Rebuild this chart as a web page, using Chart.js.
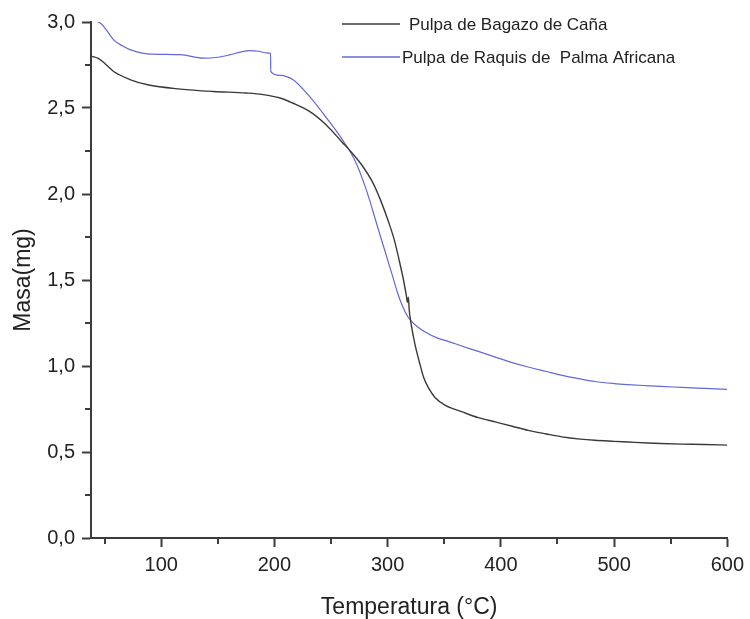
<!DOCTYPE html>
<html>
<head>
<meta charset="utf-8">
<script src="https://cdn.jsdelivr.net/npm/chart.js@4/dist/chart.umd.min.js"></script>
<style>
    html, body { margin: 0; padding: 0; background: #fff; }
    #wrap { width: 750px; height: 619px; }
</style>
</head>
<body>
<div id="wrap"><canvas id="tgaChart"></canvas></div>
<script>
// Curva TGA - pulpa de bagazo de caña
const bagazoTemp = [39, 44, 50, 58, 73, 88, 117, 146, 175, 190, 205, 216, 231, 246, 260, 266, 277, 287, 294, 301, 306, 310, 314, 316.5, 317.5, 318.3, 319, 320.5, 324, 328, 332, 336.5, 342, 351, 366, 380, 395, 410, 424, 440, 454, 470, 483, 500, 512, 530, 541, 560, 580, 600];
const bagazoMasa = [2.80, 2.79, 2.76, 2.712, 2.664, 2.635, 2.61, 2.596, 2.587, 2.578, 2.558, 2.529, 2.48, 2.40, 2.30, 2.258, 2.17, 2.065, 1.96, 1.834, 1.73, 1.62, 1.50, 1.41, 1.37, 1.40, 1.33, 1.254, 1.13, 1.023, 0.93, 0.868, 0.815, 0.771, 0.733, 0.70, 0.675, 0.65, 0.626, 0.605, 0.588, 0.575, 0.568, 0.562, 0.558, 0.552, 0.549, 0.546, 0.544, 0.54];

// Curva TGA - pulpa de raquis de palma africana
const raquisTemp = [44, 47, 52, 58, 66, 73, 88, 117, 137, 150, 161, 170, 178, 186, 193, 196.6, 196.8, 205, 216.5, 231, 246, 260, 270.7, 281, 292.6, 304.3, 309, 313, 317, 320.5, 326, 333.6, 343, 354, 366, 380, 395, 410, 424, 440, 454, 470, 483, 500, 512, 530, 541, 560, 580, 600];
const raquisMasa = [3.0, 2.99, 2.95, 2.896, 2.86, 2.838, 2.815, 2.81, 2.79, 2.795, 2.81, 2.825, 2.834, 2.83, 2.82, 2.818, 2.712, 2.69, 2.664, 2.567, 2.442, 2.316, 2.20, 2.027, 1.776, 1.524, 1.42, 1.35, 1.295, 1.264, 1.23, 1.196, 1.165, 1.142, 1.115, 1.085, 1.052, 1.02, 0.994, 0.968, 0.945, 0.925, 0.91, 0.898, 0.892, 0.885, 0.881, 0.876, 0.87, 0.864];

const seriesLabels = ['Pulpa de Bagazo de Caña', 'Pulpa de Raquis de  Palma Africana'];
const seriesColors = ['#3a3a3a', '#6268d4'];

const xTicks = [100, 200, 300, 400, 500, 600];
const xMinor = [50, 150, 250, 350, 450, 550];
const yMinor = [0.25, 0.75, 1.25, 1.75, 2.25, 2.75];

const axisColor = '#3c3c3c';
const fontFamily = '"Liberation Sans", Arial, sans-serif';

function toPoints(xs, ys) {
    return xs.map((x, i) => ({ x: x, y: ys[i] }));
}

// minor ticks, drawn through the scales
const minorTicks = {
    id: 'minorTicks',
    afterDraw(chart) {
        const ctx = chart.ctx;
        const xs = chart.scales.x;
        const ys = chart.scales.y;
        ctx.save();
        ctx.strokeStyle = axisColor;
        ctx.lineWidth = 2;
        ctx.beginPath();
        xMinor.forEach(v => {
            const px = Math.round(xs.getPixelForValue(v));
            ctx.moveTo(px, ys.bottom);
            ctx.lineTo(px, ys.bottom + 6);
        });
        yMinor.forEach(v => {
            const py = Math.round(ys.getPixelForValue(v));
            ctx.moveTo(xs.left, py);
            ctx.lineTo(xs.left - 6, py);
        });
        ctx.stroke();
        ctx.restore();
    }
};

// legend block in the upper right
const lineLegend = {
    id: 'lineLegend',
    afterDraw(chart) {
        const ctx = chart.ctx;
        const rows = [
            { y: 24, lineX: 342, lineEnd: 400, textX: 409 },
            { y: 57, lineX: 342, lineEnd: 400, textX: 402 }
        ];
        ctx.save();
        ctx.font = '17px ' + fontFamily;
        ctx.textBaseline = 'middle';
        chart.data.datasets.forEach((ds, i) => {
            const r = rows[i];
            ctx.strokeStyle = ds.borderColor;
            ctx.lineWidth = 1.3;
            ctx.beginPath();
            ctx.moveTo(r.lineX, r.y);
            ctx.lineTo(r.lineEnd, r.y);
            ctx.stroke();
            ctx.fillStyle = '#222';
            ctx.fillText(ds.label, r.textX, r.y + 1);
        });
        ctx.restore();
    }
};

const ctx = document.getElementById('tgaChart').getContext('2d');
new Chart(ctx, {
    type: 'line',
    data: {
        datasets: [
            {
                label: seriesLabels[0],
                data: toPoints(bagazoTemp, bagazoMasa),
                borderColor: seriesColors[0],
                borderWidth: 1.4,
                pointRadius: 0,
                cubicInterpolationMode: 'monotone',
                fill: false
            },
            {
                label: seriesLabels[1],
                data: toPoints(raquisTemp, raquisMasa),
                borderColor: seriesColors[1],
                borderWidth: 1.2,
                pointRadius: 0,
                cubicInterpolationMode: 'monotone',
                fill: false
            }
        ]
    },
    options: {
        responsive: true,
        maintainAspectRatio: false,
        animation: false,
        layout: {
            padding: { top: 22, right: 20, left: 0, bottom: 0 }
        },
        plugins: {
            legend: { display: false },
            tooltip: { enabled: false }
        },
        scales: {
            x: {
                type: 'linear',
                min: 38,
                max: 600,
                afterBuildTicks: scale => {
                    scale.ticks = xTicks.map(v => ({ value: v }));
                },
                afterFit: scale => {
                    scale.height = 81;
                },
                grid: {
                    drawOnChartArea: false,
                    drawTicks: true,
                    tickLength: 9,
                    tickWidth: 2,
                    tickColor: axisColor
                },
                border: { display: true, color: axisColor, width: 2 },
                ticks: {
                    padding: 6,
                    color: '#222',
                    font: { family: fontFamily, size: 20 },
                    maxRotation: 0
                },
                title: {
                    display: true,
                    text: 'Temperatura (°C)',
                    color: '#222',
                    font: { family: fontFamily, size: 23 },
                    padding: { top: 6, bottom: -2 }
                }
            },
            y: {
                min: 0,
                max: 3,
                ticks: {
                    stepSize: 0.5,
                    padding: 7,
                    color: '#222',
                    font: { family: fontFamily, size: 20 },
                    callback: v => v.toFixed(1).replace('.', ',')
                },
                afterFit: scale => {
                    scale.width = 91;
                },
                grid: {
                    drawOnChartArea: false,
                    drawTicks: true,
                    tickLength: 9,
                    tickWidth: 2,
                    tickColor: axisColor
                },
                border: { display: true, color: axisColor, width: 2 },
                title: {
                    display: true,
                    text: 'Masa(mg)',
                    color: '#222',
                    font: { family: fontFamily, size: 23 },
                    padding: { top: 10, bottom: 0 }
                }
            }
        }
    },
    plugins: [minorTicks, lineLegend]
});
</script>
</body>
</html>
